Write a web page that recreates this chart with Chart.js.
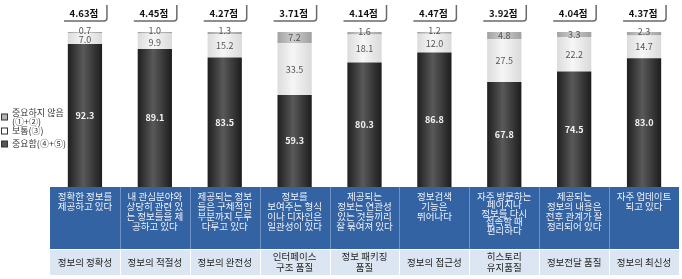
<!DOCTYPE html>
<html>
<head>
<meta charset="utf-8">
<script src="https://cdn.jsdelivr.net/npm/chart.js@4.4.1/dist/chart.umd.min.js"></script>
<style>
  html, body { margin: 0; padding: 0; background: #fff; }
  #wrap { width: 682px; height: 279px; position: relative; }
</style>
</head>
<body>
<div id="wrap"><canvas id="surveyChart" width="682" height="279"></canvas></div>
<script>
// data
const categories = ['정보의 정확성', '정보의 적절성', '정보의 완전성', '인터페이스\n구조 품질', '정보 패키징\n품질', '정보의 접근성', '히스토리\n유지품질', '정보전달 품질', '정보의 최신성'];
const descriptions = [
    '정확한 정보를\n제공하고 있다',
    '내 관심분야와\n상당히 관련 있\n는 정보들을 제\n공하고 있다',
    '제공되는 정보\n들은 구체적인\n부분까지 두루\n다루고 있다',
    '정보를\n보여주는 형식\n이나 디자인은\n일관성이 있다',
    '제공되는\n정보는 연관성\n있는 것들끼리\n잘 묶여져 있다',
    '정보검색\n기능은\n뛰어나다',
    '자주 방문하는\n페이지나\n정보를 다시\n접속할 때\n편리하다',
    '제공되는\n정보의 내용은\n전후 관계가 잘\n정리되어 있다',
    '자주 업데이트\n되고 있다'
];
const important = [92.3, 89.1, 83.5, 59.3, 80.3, 86.8, 67.8, 74.5, 83.0];
const neutral = [7.0, 9.9, 15.2, 33.5, 18.1, 12.0, 27.5, 22.2, 14.7];
const notImportant = [0.7, 1.0, 1.3, 7.2, 1.6, 1.2, 4.8, 3.3, 2.3];
const scores = [4.63, 4.45, 4.27, 3.71, 4.14, 4.47, 3.92, 4.04, 4.37];
const legendLabels = ['중요하지 않음\n(①+②)', '보통(③)', '중요함(④+⑤)'];

const FONT = "'Noto Sans CJK KR', 'Noto Sans', sans-serif";
const HALF_BAR = 17;

function barGradient(stops) {
    return function(ctx) {
        const chart = ctx.chart;
        if (!chart.chartArea || !chart.scales.x) return stops[1];
        const cx = chart.scales.x.getPixelForValue(ctx.dataIndex);
        const g = chart.ctx.createLinearGradient(cx - HALF_BAR, 0, cx + HALF_BAR, 0);
        g.addColorStop(0, stops[0]);
        g.addColorStop(0.45, stops[1]);
        g.addColorStop(1, stops[2]);
        return g;
    };
}

function drawLines(c, text, x, y, lh) {
    const lines = text.split('\n');
    const y0 = y - (lines.length - 1) * lh / 2;
    lines.forEach((l, i) => c.fillText(l, x, y0 + i * lh));
}

const decorPlugin = {
    id: 'decor',
    afterDatasetsDraw(chart) {
        const c = chart.ctx;
        const area = chart.chartArea;
        const xs = chart.scales.x;
        const colW = (area.right - area.left) / categories.length;
        c.save();
        c.textAlign = 'center';
        c.textBaseline = 'middle';

        // value labels on segments
        [0, 1, 2].forEach(di => {
            const meta = chart.getDatasetMeta(di);
            const vals = chart.data.datasets[di].data;
            meta.data.forEach((bar, i) => {
                let y = (bar.y + bar.base) / 2;
                if (di === 2 && vals[i] < 3) y -= 2;
                if (di === 1 && notImportant[i] < 3 && vals[i] < 10) y += 1;
                if (di === 0) {
                    c.fillStyle = '#f4f4f4';
                    c.font = 'bold 9px ' + FONT;
                } else {
                    c.fillStyle = '#555';
                    c.font = '9px ' + FONT;
                }
                c.fillText(vals[i].toFixed(1), bar.x, y);
            });
        });

        // score boxes
        scores.forEach((s, i) => {
            const cx = xs.getPixelForValue(i);
            const l = cx - 21, r = cx + 22, t = 5, b = 21;
            c.fillStyle = '#fff';
            c.fillRect(l, t, r - l, b - t);
            c.strokeStyle = '#6a6a6a';
            c.lineWidth = 1.5;
            c.beginPath();
            c.moveTo(r, t);
            c.lineTo(r, b - 3);
            c.quadraticCurveTo(r, b, r - 3, b);
            c.lineTo(l, b);
            c.stroke();
            c.fillStyle = '#111';
            c.font = 'bold 9.5px ' + FONT;
            c.fillText(s.toFixed(2) + '점', cx - 1, 13);
        });

        // table under the bars
        const tTop = area.bottom, tMid = 249, tBot = 275;
        c.fillStyle = '#3463a3';
        c.fillRect(area.left, tTop, area.right - area.left, tMid - tTop);
        c.fillStyle = '#dce6f2';
        c.fillRect(area.left, tMid, area.right - area.left, tBot - tMid);
        for (let i = 1; i < categories.length; i++) {
            const x = Math.round(area.left + i * colW) + 0.5;
            c.strokeStyle = '#6f92c4';
            c.lineWidth = 1;
            c.beginPath(); c.moveTo(x, tTop); c.lineTo(x, tMid); c.stroke();
            c.strokeStyle = '#ffffff';
            c.beginPath(); c.moveTo(x, tMid); c.lineTo(x, tBot); c.stroke();
        }
        c.strokeStyle = '#ffffff';
        c.beginPath(); c.moveTo(area.left, tMid + 0.5); c.lineTo(area.right, tMid + 0.5); c.stroke();

        descriptions.forEach((d, i) => {
            const cx = area.left + (i + 0.5) * colW;
            c.fillStyle = '#eef2fa';
            c.font = '9.5px ' + FONT;
            const lines = d.split('\n');
            const lh = lines.length > 4 ? 8.6 : 10.2;
            lines.forEach((l, k) => c.fillText(l, cx, 196 + k * lh));
        });
        categories.forEach((cat, i) => {
            const cx = area.left + (i + 0.5) * colW;
            c.fillStyle = '#1e1e1e';
            c.font = '9.5px ' + FONT;
            drawLines(c, cat, cx, 262, 11);
        });

        // legend
        const items = [
            { fill: '#b4b4b4', y: 117 },
            { fill: '#ffffff', y: 131 },
            { fill: '#555555', y: 144 }
        ];
        items.forEach((it, k) => {
            c.fillStyle = it.fill;
            c.fillRect(1.5, it.y - 3, 6, 6);
            c.strokeStyle = '#333';
            c.lineWidth = 1;
            c.strokeRect(1.5, it.y - 3, 6, 6);
            c.fillStyle = '#333';
            c.font = '9px ' + FONT;
            c.textAlign = 'left';
            drawLines(c, legendLabels[k], 12, it.y, 9);
            c.textAlign = 'center';
        });
        c.restore();
    }
};

new Chart(document.getElementById('surveyChart'), {
    type: 'bar',
    data: {
        labels: categories,
        datasets: [{
            label: legendLabels[2],
            data: important,
            backgroundColor: barGradient(['#1f1f1f', '#595959', '#1d1d1d'])
        }, {
            label: legendLabels[1],
            data: neutral,
            backgroundColor: barGradient(['#dcdcdc', '#f6f6f6', '#dadada'])
        }, {
            label: legendLabels[0],
            data: notImportant,
            backgroundColor: barGradient(['#a2a2a2', '#cdcdcd', '#a0a0a0'])
        }]
    },
    options: {
        responsive: false,
        animation: false,
        devicePixelRatio: 1,
        layout: { padding: { left: 50, right: 3, top: 32, bottom: 92 } },
        datasets: { bar: { barPercentage: 0.49, categoryPercentage: 1, borderWidth: 0 } },
        scales: {
            x: { stacked: true, display: false },
            y: { stacked: true, display: false, min: 0, max: 100 }
        },
        plugins: {
            legend: { display: false },
            tooltip: { enabled: false }
        }
    },
    plugins: [decorPlugin]
});
</script>
</body>
</html>
